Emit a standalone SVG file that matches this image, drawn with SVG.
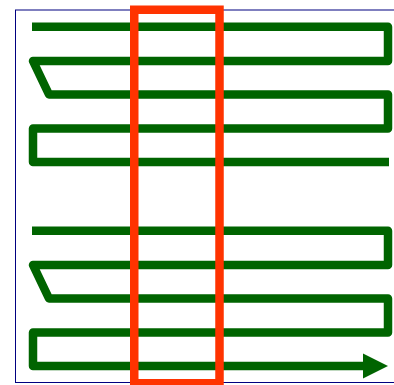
<svg xmlns="http://www.w3.org/2000/svg" width="394" height="385" viewBox="0 0 394 385">
  <style>
    .frame { fill: none; stroke: #000080; stroke-width: 1; }
    .scan { fill: none; stroke: #006400; stroke-width: 8.5; stroke-linejoin: round; stroke-linecap: butt; }
    .head { fill: #006400; }
    .window { fill: none; stroke: #ff3300; stroke-width: 8.5; stroke-linejoin: miter; }
  </style>
  <rect width="394" height="385" fill="#ffffff"/>
  <g id="frame">
    <rect class="frame" x="15.5" y="10" width="400" height="372.5"/>
  </g>
  <g id="connectors">
    <path class="scan" d="M32,26.7 H388 V61 H33 L49,94.5 H388 V128.5 H33 V162 H389"/>
    <path class="scan" d="M32,230.7 H388 V265 H33 L49,298.5 H388 V332.5 H33 V366 H365"/>
    <polygon class="head" points="363,353.5 388,366 363,378.5"/>
  </g>
  <g id="window">
    <rect class="window" x="134.25" y="9.75" width="85.25" height="373.5"/>
  </g>
</svg>
